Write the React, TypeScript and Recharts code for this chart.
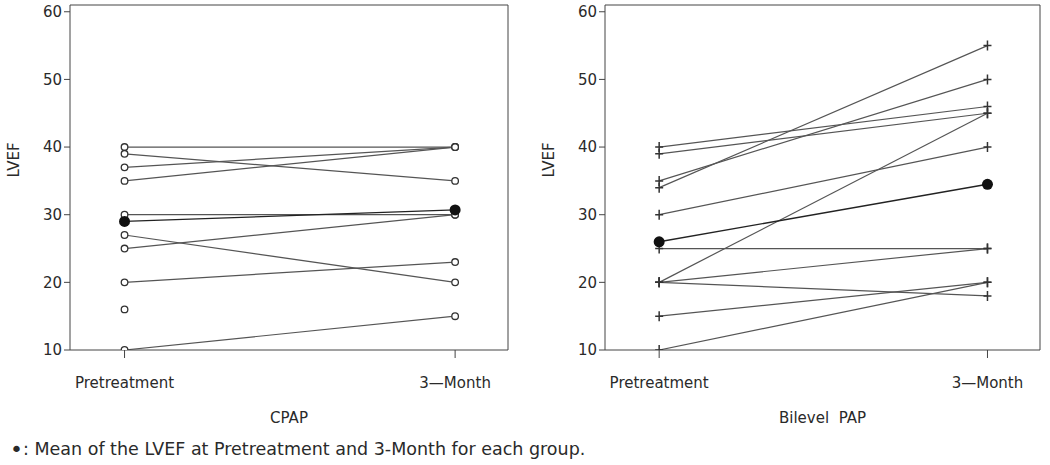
import { ComposedChart, Line, XAxis, YAxis, ReferenceLine } from "recharts";

const timepoints = ["Pretreatment", "3—Month"];
const yTicks = [10, 20, 30, 40, 50, 60];

// LVEF per patient: [pretreatment, 3-month]
const cpapPre = [40, 39, 37, 35, 30, 27, 25, 20, 16, 10];
const cpapPost = [40, 35, 40, 40, 30, 20, 30, 23, null, 15];
const cpapMean = [29, 30.7];

const bilevelPre = [40, 39, 35, 34, 30, 25, 20, 20, 20, 15, 10];
const bilevelPost = [46, 45, 50, 55, 40, 25, 45, 25, 18, 20, 20];
const bilevelMean = [26, 34.5];

const FONT = "'DejaVu Sans', sans-serif";
const INK = "#2a2a2a";
const X_DOMAIN: [number, number] = [-0.165, 1.16];
const Y_DOMAIN: [number, number] = [10, 61];

type Pt = { x: number; y: number };

function pairs(pre: (number | null)[], post: (number | null)[]): Pt[][] {
  return pre.map((p, i) => {
    const pts: Pt[] = [];
    if (p != null) pts.push({ x: 0, y: p });
    if (post[i] != null) pts.push({ x: 1, y: post[i] as number });
    return pts;
  });
}

const circleDot = (props: any) => {
  const { cx, cy, key } = props;
  if (cx == null || cy == null) return <g key={key} />;
  return <circle key={key} cx={cx} cy={cy} r={3.3} fill="#fff" stroke="#333" strokeWidth={1.3} />;
};

const plusDot = (props: any) => {
  const { cx, cy, key } = props;
  if (cx == null || cy == null) return <g key={key} />;
  return (
    <path
      key={key}
      d={`M${cx - 4},${cy}H${cx + 4}M${cx},${cy - 5}V${cy + 5}`}
      stroke="#333"
      strokeWidth={1.5}
      fill="none"
    />
  );
};

const meanDot = (props: any) => {
  const { cx, cy, key } = props;
  if (cx == null || cy == null) return <g key={key} />;
  return <circle key={key} cx={cx} cy={cy} r={5.5} fill="#111" />;
};

function Panel(props: {
  title: string;
  series: Pt[][];
  mean: number[];
  dot: (p: any) => any;
  width: number;
  right: number;
}) {
  const meanData = [
    { x: 0, y: props.mean[0] },
    { x: 1, y: props.mean[1] },
  ];
  return (
    <ComposedChart width={props.width} height={440} margin={{ top: 5, right: props.right, bottom: 10, left: 0 }}>
      <XAxis
        xAxisId="b"
        type="number"
        dataKey="x"
        domain={X_DOMAIN}
        ticks={[0, 1]}
        tickFormatter={(v: number) => timepoints[v]}
        tickSize={8}
        tickMargin={19}
        height={80}
        stroke="#444"
        tick={{ fill: INK, fontSize: 15, fontFamily: FONT }}
        label={{ value: props.title, position: "insideBottom", offset: 7, fill: INK, fontSize: 15, fontFamily: FONT }}
        allowDataOverflow
      />
      <YAxis
        yAxisId="l"
        type="number"
        domain={Y_DOMAIN}
        ticks={yTicks}
        width={70}
        tickSize={6}
        tickMargin={2}
        stroke="#444"
        tick={{ fill: INK, fontSize: 15, fontFamily: FONT }}
        label={{ value: "LVEF", angle: -90, position: "insideLeft", offset: 14, fill: INK, fontSize: 15, fontFamily: FONT }}
        allowDataOverflow
      />
      <ReferenceLine xAxisId="b" yAxisId="l" y={Y_DOMAIN[1]} stroke="#444" ifOverflow="extendDomain" />
      <ReferenceLine xAxisId="b" yAxisId="l" x={X_DOMAIN[1]} stroke="#444" ifOverflow="extendDomain" />
      {props.series.map((d, i) => (
        <Line
          key={i}
          xAxisId="b"
          yAxisId="l"
          data={d}
          dataKey="y"
          stroke="#555"
          strokeWidth={1.2}
          dot={props.dot}
          isAnimationActive={false}
        />
      ))}
      <Line
        xAxisId="b"
        yAxisId="l"
        data={meanData}
        dataKey="y"
        stroke="#222"
        strokeWidth={1.3}
        dot={meanDot}
        isAnimationActive={false}
      />
    </ComposedChart>
  );
}

export default function App() {
  return (
    <div style={{ position: "relative", width: 1050, height: 465, background: "#fff", fontFamily: FONT, overflow: "hidden" }}>
      <style>{"body{margin:0}"}</style>
      <div style={{ position: "absolute", left: 0, top: 0 }}>
        <Panel title="CPAP" series={pairs(cpapPre, cpapPost)} mean={cpapMean} dot={circleDot} width={520} right={12} />
      </div>
      <div style={{ position: "absolute", left: 535, top: 0 }}>
        <Panel
          title={"Bilevel\u00a0\u00a0PAP"}
          series={pairs(bilevelPre, bilevelPost)}
          mean={bilevelMean}
          dot={plusDot}
          width={515}
          right={10}
        />
      </div>
      <div style={{ position: "absolute", left: 10, top: 439, fontSize: 17.5, color: INK, whiteSpace: "nowrap" }}>
        <span style={{ fontSize: 22, lineHeight: "17px", verticalAlign: "-2px" }}>•</span>: Mean of the LVEF at Pretreatment and 3-Month for each group.
      </div>
    </div>
  );
}
